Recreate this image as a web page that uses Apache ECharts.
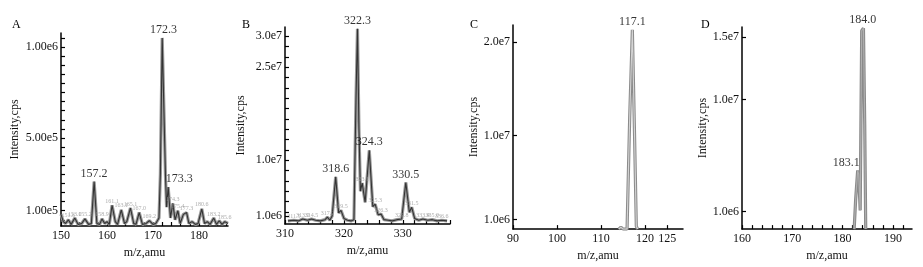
<!DOCTYPE html>
<html>
<head>
<meta charset="utf-8">
<script src="https://cdn.jsdelivr.net/npm/echarts@6/dist/echarts.min.js"></script>
<style>
  html, body { margin: 0; background: #fff; }
  #main { width: 923px; height: 267px; }
</style>
</head>
<body>
<div id="main"></div>
<script>
// ---- panel A : m/z 150-186 ----
var aTrace = [
  [150, 8e4], [150.5, 4e4], [151, 3e4], [151.6, 5e4], [152.2, 2.5e4], [153, 6e4], [153.7, 2.5e4],
  [154.5, 3e4], [155.2, 5.5e4], [156, 2.5e4], [156.6, 3e4], [157.2, 2.6e5], [157.8, 3e4],
  [158.4, 2.5e4], [158.9, 5.5e4], [159.5, 3e4], [160, 4e4], [160.5, 2.5e4], [161.1, 1.3e5],
  [161.8, 4e4], [162.3, 2.5e4], [163.1, 1.05e5], [163.8, 3e4], [164.3, 4e4], [165.1, 1.15e5],
  [165.8, 3e4], [166.3, 2.5e4], [167, 9e4], [167.7, 2.5e4], [168.5, 3e4], [169.2, 4.5e4],
  [170, 2.5e4], [170.6, 3e4], [171.3, 6e4], [171.6, 3e5], [172.0, 1.05e6], [172.4, 1.05e6],
  [172.7, 3e5], [172.95, 1.2e5], [173.3, 2.3e5], [173.8, 6e4], [174.3, 1.4e5], [174.8, 5e4],
  [175.4, 1e5], [175.9, 3e4], [176.6, 8e4], [177.3, 9e4], [177.8, 3e4], [178.5, 4e4],
  [179.2, 2.5e4], [179.8, 3e4], [180.6, 1.1e5], [181.2, 3e4], [181.8, 4e4], [182.4, 2.5e4],
  [183.2, 6e4], [183.8, 2.5e4], [184.4, 4.5e4], [185, 2.5e4], [185.6, 4e4], [186.3, 3e4]
];
var aPeaks = [[157.2, 2.6e5], [172.3, 1.05e6], [173.3, 2.3e5]];
var aMinor = [
  [151.6, 5e4], [153, 6e4], [155.2, 5.5e4], [158.9, 5.5e4], [161.1, 1.3e5], [163.1, 1.05e5],
  [165.1, 1.15e5], [167.0, 9e4], [169.2, 4.5e4], [174.3, 1.4e5], [175.4, 1e5], [177.3, 9e4],
  [180.6, 1.1e5], [183.2, 6e4], [185.6, 4e4]
];
var aXLabels = [150, 160, 170, 180];
var aYLabelVals = [1e5, 5e5, 1e6];
var aYLabelText = ['1.00e5', '5.00e5', '1.00e6'];

// ---- panel B : m/z 310-338 ----
var bTrace = [
  [310.5, 2e5], [311.5, 3e5], [312.3, 2e5], [313, 5e5], [313.8, 3e5], [314.5, 5e5], [315.2, 3e5],
  [316, 2e5], [316.8, 4e5], [317.2, 8e5], [317.6, 3e5], [318, 1e6], [318.6, 7.3e6], [319.1, 1.5e6],
  [319.5, 1.9e6], [320, 6e5], [320.6, 3e5], [321.2, 2e5], [321.7, 4e5], [322.05, 2e7],
  [322.3, 3.12e7], [322.55, 1.5e7], [322.8, 5e6], [323.1, 6.3e6], [323.6, 3.2e6], [324.3, 1.16e7],
  [324.9, 2.5e6], [325.3, 2.9e6], [325.8, 1.2e6], [326.3, 1.3e6], [326.8, 4e5], [327.5, 3e5],
  [328.2, 2e5], [329, 4e5], [329.8, 5e5], [330.5, 6.4e6], [331.1, 1.6e6], [331.5, 2.4e6],
  [332, 6e5], [332.7, 3e5], [333.4, 5e5], [334.2, 3e5], [335, 4e5], [335.8, 2e5], [336.6, 3e5],
  [337.5, 2e5]
];
var bPeaks = [[318.6, 7.3e6], [322.3, 3.12e7], [324.3, 1.16e7], [330.5, 6.4e6]];
var bMinor = [
  [311.5, 3e5], [313, 5e5], [314.5, 5e5], [317.2, 8e5], [319.5, 1.9e6], [323.1, 6.3e6],
  [325.3, 2.9e6], [326.3, 1.3e6], [329.8, 5e5], [331.5, 2.4e6], [333.4, 5e5], [335, 4e5],
  [336.6, 3e5]
];
var bXLabels = [310, 320, 330];
var bYLabelVals = [1e6, 1e7, 2.5e7, 3e7];
var bYLabelText = ['1.0e6', '1.0e7', '2.5e7', '3.0e7'];

// ---- panel C : m/z 90-128 ----
var cTrace = [
  [114, 0], [114.5, 2e5], [115, 0], [115.9, 0], [116.5, 1.2e7], [117.1, 2.13e7],
  [117.6, 1.0e7], [118.0, 3e5], [118.3, 0]
];
var cPeaks = [[117.1, 2.13e7]];
var cXLabels = [90, 100, 110, 120, 125];
var cYLabelVals = [1e6, 1e7, 2e7];
var cYLabelText = ['1.0e6', '1.0e7', '2.0e7'];

// ---- panel D : m/z 160-193 ----
var dTrace = [
  [182.3, -4e5], [182.6, 2e6], [183.0, 4.3e6], [183.2, 4.0e6], [183.5, 1.1e6],
  [183.8, 1.55e7], [184.15, 1.57e7], [184.4, 8e6], [184.6, -4e5]
];
var dPeaks = [[183.1, 4.3e6], [184.0, 1.57e7]];
var dXLabels = [160, 170, 180, 190];
var dYLabelVals = [1e6, 1e7, 1.5e7];
var dYLabelText = ['1.0e6', '1.0e7', '1.5e7'];

function range(a, b, step) {
  var out = [];
  for (var v = a; v <= b + 1e-9; v += step) out.push(v);
  return out;
}

var FONT = '"Liberation Serif", "DejaVu Serif", serif';

var panels = [
  { letter: 'A', grid: { left: 61, right: 695, top: 33, bottom: 41 },
    xMin: 150, xMax: 186.3, xLabels: aXLabels, xTicks: range(150, 186, 2),
    yMin: 1.6e4, yMax: 1.077e6, yLabelVals: aYLabelVals, yLabelText: aYLabelText, yTicks: range(5e4, 1.05e6, 5e4),
    trace: aTrace, peaks: aPeaks, minor: aMinor, nameGap: 40,
    halo: '#9a9a9a', core: '#333', offsets: { '173.3': [11, 0] } },
  { letter: 'B', grid: { left: 285, right: 473, top: 27, bottom: 43 },
    xMin: 310, xMax: 338, xLabels: bXLabels, xTicks: range(310, 338, 2),
    yMin: -3e5, yMax: 3.15e7, yLabelVals: bYLabelVals, yLabelText: bYLabelText,
    yTicks: [1e6].concat(range(5e6 / 3, 3e7 + 1, 5e6 / 3)),
    trace: bTrace, peaks: bPeaks, minor: bMinor, nameGap: 38,
    halo: '#9a9a9a', core: '#333', offsets: {} },
  { letter: 'C', grid: { left: 513, right: 240, top: 25, bottom: 36 },
    xMin: 90, xMax: 128.6, xLabels: cXLabels, xTicks: cXLabels,
    yMin: 0, yMax: 2.18e7, yLabelVals: cYLabelVals, yLabelText: cYLabelText, yTicks: cYLabelVals,
    trace: cTrace, peaks: cPeaks, minor: [], nameGap: 32,
    halo: '#8c8c8c', core: '#d4d4d4', offsets: {} },
  { letter: 'D', grid: { left: 742, right: 11, top: 27, bottom: 35 },
    xMin: 160, xMax: 193.8, xLabels: dXLabels, xTicks: range(160, 192, 2),
    yMin: -4e5, yMax: 1.58e7, yLabelVals: dYLabelVals, yLabelText: dYLabelText, yTicks: dYLabelVals,
    trace: dTrace, peaks: dPeaks, minor: [], nameGap: 33,
    halo: '#8a8a8a', core: '#b0b0b0', offsets: { '183.1': [-12, 0] } }
];

var option = {
  backgroundColor: '#fff',
  animation: false,
  title: [], grid: [], xAxis: [], yAxis: [], series: []
};

panels.forEach(function (p, i) {
  option.title.push({
    text: p.letter, left: [7, 237, 465, 696][i], top: 14,
    textStyle: { fontFamily: FONT, fontSize: 12, fontWeight: 'normal', color: '#000' }
  });
  option.grid.push(p.grid);
  option.xAxis.push({
    type: 'value', gridIndex: i, min: p.xMin, max: p.xMax,
    name: 'm/z,amu', nameLocation: 'middle', nameGap: 18,
    nameTextStyle: { fontFamily: FONT, fontSize: 12, color: '#111' },
    axisLine: { show: true, onZero: false, lineStyle: { color: '#000', width: 1.5 } },
    axisTick: { show: true, inside: true, length: 4, customValues: p.xTicks, lineStyle: { color: '#000', width: 1.2 } },
    axisLabel: { customValues: p.xLabels, margin: 4, fontFamily: FONT, fontSize: 12, color: '#111' },
    splitLine: { show: false }
  });
  var lookup = {};
  p.yLabelVals.forEach(function (v, k) { lookup[v] = p.yLabelText[k]; });
  option.yAxis.push({
    type: 'value', gridIndex: i, min: p.yMin, max: p.yMax,
    name: 'Intensity,cps', nameLocation: 'middle', nameGap: p.nameGap,
    nameTextStyle: { fontFamily: FONT, fontSize: 12, color: '#111' },
    axisLine: { show: true, onZero: false, lineStyle: { color: '#000', width: 1.5 } },
    axisTick: { show: true, inside: true, length: 4, customValues: p.yTicks, lineStyle: { color: '#000', width: 1.2 } },
    axisLabel: {
      customValues: p.yLabelVals, margin: 3, fontFamily: FONT, fontSize: 12, color: '#111',
      formatter: function (v) { return lookup[v] || ''; }
    },
    splitLine: { show: false }
  });
  option.series.push({
    type: 'line', xAxisIndex: i, yAxisIndex: i, data: p.trace, showSymbol: false, z: 2,
    lineStyle: { color: p.halo, width: 3.2 }
  });
  option.series.push({
    type: 'line', xAxisIndex: i, yAxisIndex: i, data: p.trace, showSymbol: false, z: 3,
    lineStyle: { color: p.core, width: 1.1 }
  });
  option.series.push({
    type: 'scatter', xAxisIndex: i, yAxisIndex: i, symbolSize: 0, z: 4,
    data: p.peaks.map(function (d) {
      var key = d[0].toFixed(1);
      return { value: d, label: { offset: p.offsets[key] || [0, 0] } };
    }),
    label: {
      show: true, position: 'top', distance: 2,
      fontFamily: FONT, fontSize: 12, color: '#000',
      formatter: function (q) { return q.value[0].toFixed(1); }
    }
  });
  if (p.minor.length) {
    option.series.push({
      type: 'scatter', xAxisIndex: i, yAxisIndex: i, symbolSize: 0, z: 4,
      data: p.minor,
      label: {
        show: true, position: 'top', distance: 1,
        fontFamily: FONT, fontSize: 6, color: '#999',
        formatter: function (q) { return q.value[0].toFixed(1); }
      }
    });
  }
});

var chart = echarts.init(document.getElementById('main'), null, { renderer: 'canvas' });
chart.setOption(option);
</script>
</body>
</html>
